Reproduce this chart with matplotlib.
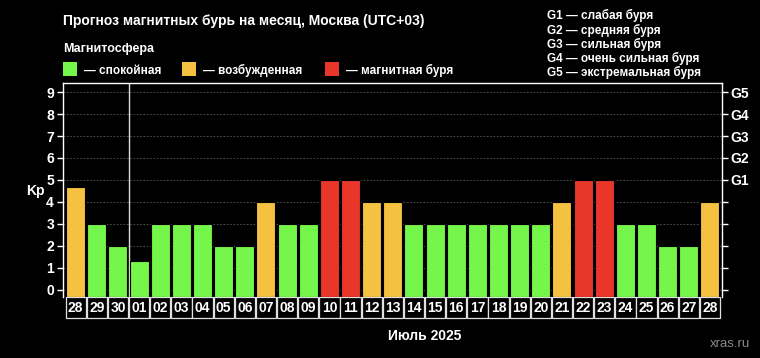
import matplotlib
matplotlib.use('Agg')
import matplotlib.pyplot as plt
import matplotlib.transforms as mtransforms
from matplotlib.patches import Rectangle

plt.rcParams['font.family'] = ['Liberation Sans', 'DejaVu Sans']
plt.rcParams['font.weight'] = 'bold'

# data
days = ['28', '29', '30', '01', '02', '03', '04', '05', '06', '07', '08',
        '09', '10', '11', '12', '13', '14', '15', '16', '17', '18', '19',
        '20', '21', '22', '23', '24', '25', '26', '27', '28']
kp = [4.67, 3, 2, 1.33, 3, 3, 3, 2, 2, 4, 3, 3, 5, 5, 4, 4,
      3, 3, 3, 3, 3, 3, 3, 4, 5, 5, 3, 3, 2, 2, 4]
g_levels = ['G1', 'G2', 'G3', 'G4', 'G5']
g_names = ['слабая буря', 'средняя буря', 'сильная буря',
           'очень сильная буря', 'экстремальная буря']
legend_labels = ['спокойная', 'возбужденная', 'магнитная буря']
month_label = 'Июль 2025'

GREEN = '#74f64b'
ORANGE = '#f4c141'
RED = '#e8362a'
legend_colors = [GREEN, ORANGE, RED]


def kp_color(v):
    if v >= 5:
        return RED
    if v >= 4:
        return ORANGE
    return GREEN


W, H = 760, 358
fig = plt.figure(figsize=(W / 100, H / 100), dpi=100, facecolor='black')
ax = fig.add_axes([63 / W, 1 - 297 / H, (722 - 63) / W, (297 - 83) / H])
ax.set_facecolor('black')

ymin, ymax = -0.32, 9.41
x = list(range(len(days)))
ax.set_ylim(ymin, ymax)
ax.set_xlim(-0.6, len(days) - 1 + 0.57)

for yv in range(10):
    ax.axhline(yv, color='#5a5a5a', lw=0.6, ls=(0, (2, 2)), zorder=0)

ax.bar(x, [v - ymin for v in kp], bottom=ymin, width=0.9,
       color=[kp_color(v) for v in kp], edgecolor='black', linewidth=0.8,
       zorder=2)

# month boundary
ax.axvline(2.5, color='#dddddd', lw=1, zorder=1)

for s in ['top', 'left', 'right']:
    ax.spines[s].set_color('white')
    ax.spines[s].set_linewidth(1)
ax.spines['bottom'].set_visible(False)

ax.set_xticks([])
ax.set_yticks(range(10))
ax.tick_params(axis='y', colors='white', labelsize=10, length=4, width=1, pad=2.5)
for lab in ax.get_yticklabels():
    lab.set_fontweight('bold')

ax2 = ax.twinx()
ax2.set_ylim(ymin, ymax)
ax2.set_yticks(range(10))
ax2.set_yticklabels([''] * 5 + g_levels)
ax2.tick_params(axis='y', colors='white', labelsize=10, length=4, width=1, pad=2)
for s in ax2.spines.values():
    s.set_visible(False)
for lab in ax2.get_yticklabels():
    lab.set_fontweight('bold')

# day cells under axis
trans = mtransforms.blended_transform_factory(ax.transData, ax.transAxes)
cell_h = 21 / (297 - 83)
for i, d in enumerate(days):
    ax.add_patch(Rectangle((i - 0.48, -cell_h), 0.96, cell_h, transform=trans,
                           facecolor='black', edgecolor='#e0e0e0', lw=0.9,
                           clip_on=False))
    ax.text(i, -cell_h / 2, d, transform=trans, ha='center', va='center',
            color='white', fontsize=10, fontweight='bold')

# texts
fig.text(63 / W, 1 - 25 / H, 'Прогноз магнитных бурь на месяц, Москва (UTC+03)',
         color='white', fontsize=10, fontweight='bold', va='baseline')
fig.text(63 / W, 1 - 52 / H, 'Магнитосфера', color='white', fontsize=9,
         fontweight='bold', va='baseline')

sq_x = [63, 182, 325]
for sx, col, lab in zip(sq_x, legend_colors, legend_labels):
    fig.patches.append(Rectangle((sx / W, 1 - 76 / H), 14 / W, 14 / H,
                                 transform=fig.transFigure, facecolor=col,
                                 edgecolor='none'))
    fig.text((sx + 21) / W, 1 - 74 / H, '— ' + lab, color='white',
             fontsize=8.5, fontweight='bold', va='baseline')

for k, (g, n) in enumerate(zip(g_levels, g_names)):
    fig.text(547 / W, 1 - (19.5 + 14.2 * k) / H, g + ' — ' + n, color='white',
             fontsize=8.5, fontweight='bold', va='baseline')

fig.text(35 / W, 1 - 191 / H, 'Kp', color='white', fontsize=10,
         fontweight='bold', ha='center', va='center')
fig.text(425 / W, 1 - 340 / H, month_label, color='white', fontsize=10,
         fontweight='bold', ha='center', va='baseline')
fig.text(750 / W, 1 - 347 / H, 'xras.ru', color='#8a8a8a', fontsize=9.5,
         fontweight='normal', ha='right', va='baseline')

fig.savefig('out.png', dpi=100, facecolor='black')
